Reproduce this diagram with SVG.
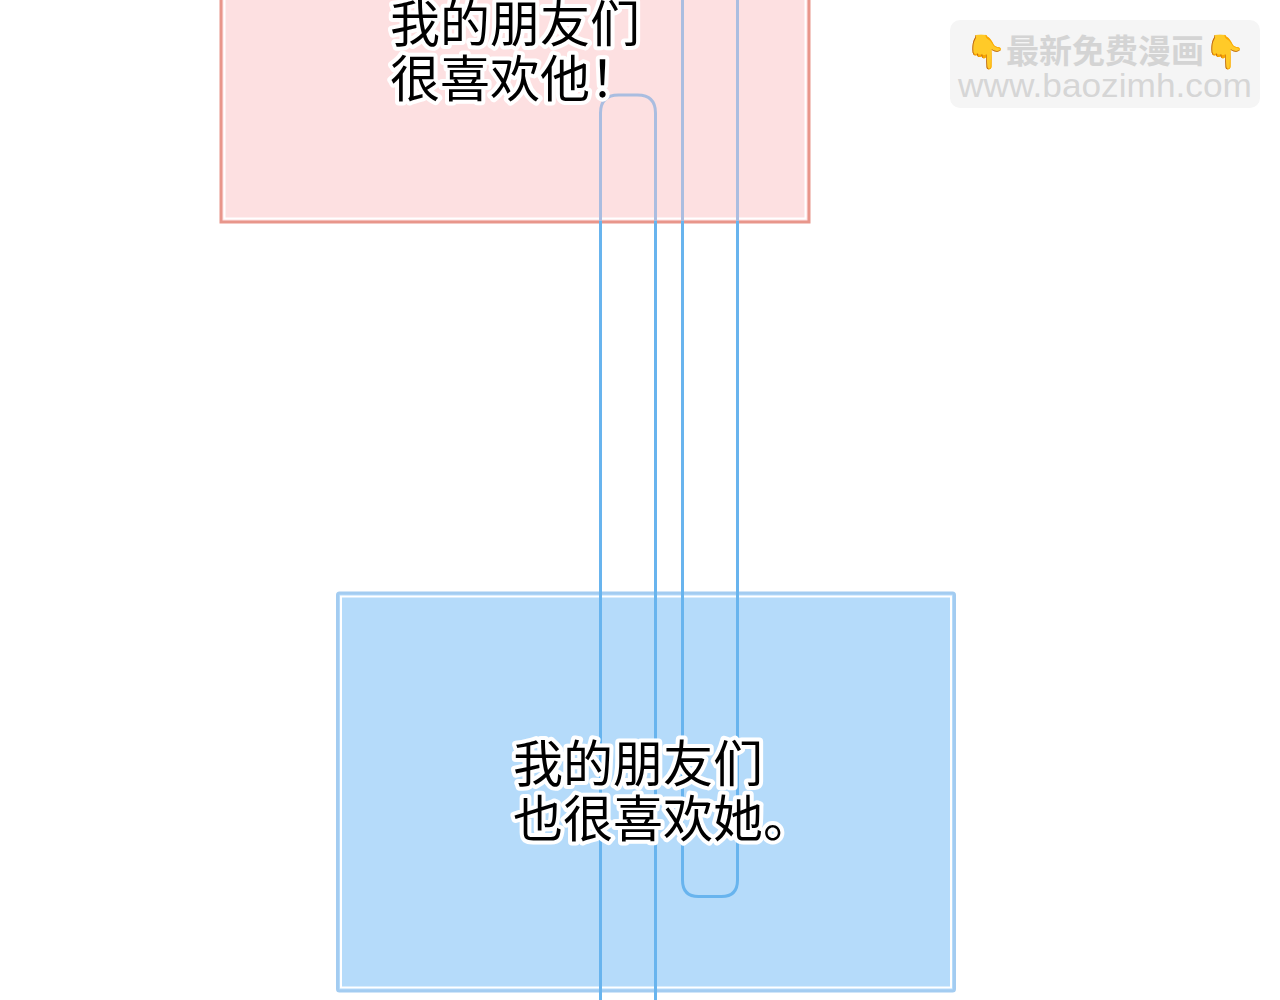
<svg xmlns="http://www.w3.org/2000/svg" width="1280" height="1000" viewBox="0 0 1280 1000">
  <defs>
    <style>
      .say { font-family: "Noto Sans CJK SC", "Noto Sans", sans-serif; font-size: 50px; fill: #000; stroke: #fff; stroke-width: 8px; stroke-linejoin: round; paint-order: stroke; }
      .wire { fill: none; stroke-width: 3px; }
      .wm1 { font-family: "Noto Sans CJK SC", "Noto Sans", sans-serif; font-size: 33px; font-weight: 700; fill: #d4d4d4; }
      .wm2 { font-family: "Liberation Sans", Arial, sans-serif; font-size: 33px; fill: #d6d6d6; }
    </style>
    <clipPath id="inPink"><rect x="222" y="-10" width="586" height="231"/></clipPath>
    <clipPath id="outPink"><rect x="0" y="221" width="1280" height="800"/></clipPath>
  </defs>
  <rect width="1280" height="1000" fill="#ffffff"/>

  <g id="pink-panel">
    <rect x="221" y="-10" width="588" height="232" fill="#fde0e1" stroke="#e8968b" stroke-width="3"/>
    <rect x="224.5" y="-10" width="581" height="228.5" fill="none" stroke="#ffffff" stroke-width="2"/>
  </g>

  <g id="blue-panel">
    <rect x="337.5" y="593" width="617" height="398" rx="2" fill="#b5dbfa" stroke="#a3ccf1" stroke-width="3"/>
    <rect x="341" y="596.5" width="610" height="391" fill="none" stroke="#ffffff" stroke-width="2"/>
  </g>

  <g id="connectors">
    <g clip-path="url(#inPink)" stroke="#aabde0">
      <path class="wire" d="M600.5,1010 V113 Q600.5,95 618.5,95 H637.5 Q655.5,95 655.5,113 V1010"/>
      <path class="wire" d="M682.5,-10 V880 Q682.5,896.5 698.5,896.5 H721.5 Q737.5,896.5 737.5,880 V-10"/>
    </g>
    <g clip-path="url(#outPink)" stroke="#68b4ee">
      <path class="wire" d="M600.5,1010 V113 Q600.5,95 618.5,95 H637.5 Q655.5,95 655.5,113 V1010"/>
      <path class="wire" d="M682.5,-10 V880 Q682.5,896.5 698.5,896.5 H721.5 Q737.5,896.5 737.5,880 V-10"/>
    </g>
  </g>

  <g id="text-pink">
    <text class="say" x="390" y="42">我的朋友们</text>
    <text class="say" x="390" y="97">很喜欢他！</text>
  </g>

  <g id="text-blue">
    <text class="say" x="513" y="782">我的朋友们</text>
    <text class="say" x="513" y="837">也很喜欢她。</text>
  </g>

  <g id="watermark">
    <rect x="950" y="20" width="310" height="88" rx="10" fill="#f5f5f5"/>
    <text class="wm1" x="1105" y="63" text-anchor="middle">👇最新免费漫画👇</text>
    <text class="wm2" x="958" y="97" textLength="294" lengthAdjust="spacingAndGlyphs">www.baozimh.com</text>
  </g>
</svg>
